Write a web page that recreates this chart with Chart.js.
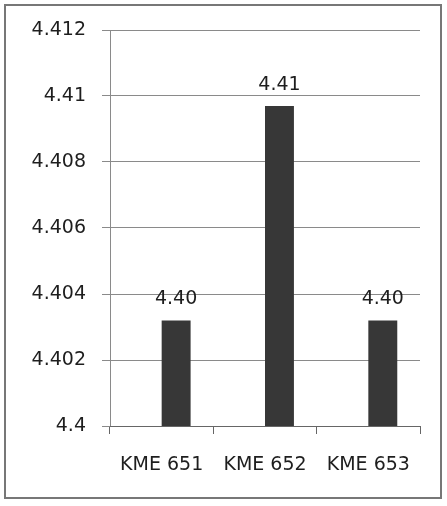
<!DOCTYPE html>
<html>
<head>
<meta charset="utf-8">
<script src="https://cdn.jsdelivr.net/npm/chart.js@4"></script>
<style>
  html, body { margin: 0; padding: 0; background: #fff; }
  #wrap { width: 447px; height: 506px; position: relative; }
</style>
</head>
<body>
<div id="wrap"><canvas id="kmeChart" width="447" height="506"></canvas></div>
<script>
const categories = ['KME 651', 'KME 652', 'KME 653'];
// the original sheet has an empty first series, which pushes the bars right of centre
const blankSeries = [null, null, null];
const values = [4.4032, 4.4097, 4.4032];
const valueLabels = ['4.40', '4.41', '4.40'];
const yMin = 4.4;
const yMax = 4.412;
const yStep = 0.002;

const FONT = '"DejaVu Sans", sans-serif';

// outer frame around the whole picture
const framePlugin = {
    id: 'frame',
    beforeDraw(chart) {
        const ctx = chart.ctx;
        ctx.save();
        ctx.fillStyle = '#fff';
        ctx.fillRect(0, 0, chart.width, chart.height);
        ctx.strokeStyle = '#777';
        ctx.lineWidth = 2;
        ctx.strokeRect(5, 5, 436, 493);
        ctx.restore();
    }
};

// value labels above each bar
const valueLabelPlugin = {
    id: 'valueLabels',
    afterDatasetsDraw(chart) {
        const ctx = chart.ctx;
        const meta = chart.getDatasetMeta(1);
        ctx.save();
        ctx.font = '19px ' + FONT;
        ctx.fillStyle = '#1e1e1e';
        ctx.textAlign = 'center';
        ctx.textBaseline = 'alphabetic';
        meta.data.forEach((bar, i) => {
            ctx.fillText(valueLabels[i], bar.x, bar.y - 16);
        });
        ctx.restore();
    }
};

new Chart(document.getElementById('kmeChart'), {
    type: 'bar',
    data: {
        labels: categories,
        datasets: [{
            data: blankSeries,
            backgroundColor: '#373737',
            borderWidth: 0,
            barPercentage: 1,
            categoryPercentage: 0.56,
        }, {
            data: values,
            backgroundColor: '#373737',
            borderWidth: 0,
            barPercentage: 1,
            categoryPercentage: 0.56,
        }]
    },
    options: {
        responsive: false,
        animation: false,
        layout: { padding: { top: 30, right: 27, left: 0, bottom: 0 } },
        scales: {
            y: {
                min: yMin,
                max: yMax,
                afterFit(scale) { scale.width = 110; },
                ticks: {
                    stepSize: yStep,
                    padding: 16,
                    color: '#1e1e1e',
                    font: { size: 19, family: FONT },
                    callback: (v) => String(parseFloat(Number(v).toFixed(3))),
                },
                grid: { color: '#8a8a8a', lineWidth: 1, tickLength: 8 },
                border: { color: '#8a8a8a' },
            },
            x: {
                afterFit(scale) { scale.height = 80; },
                ticks: {
                    padding: 20,
                    color: '#1e1e1e',
                    font: { size: 19, family: FONT },
                },
                grid: { offset: true, drawOnChartArea: false, tickLength: 8, color: '#666' },
                border: { color: '#666' },
            }
        },
        plugins: {
            legend: { display: false },
            tooltip: { enabled: false },
        }
    },
    plugins: [framePlugin, valueLabelPlugin]
});
</script>
</body>
</html>
